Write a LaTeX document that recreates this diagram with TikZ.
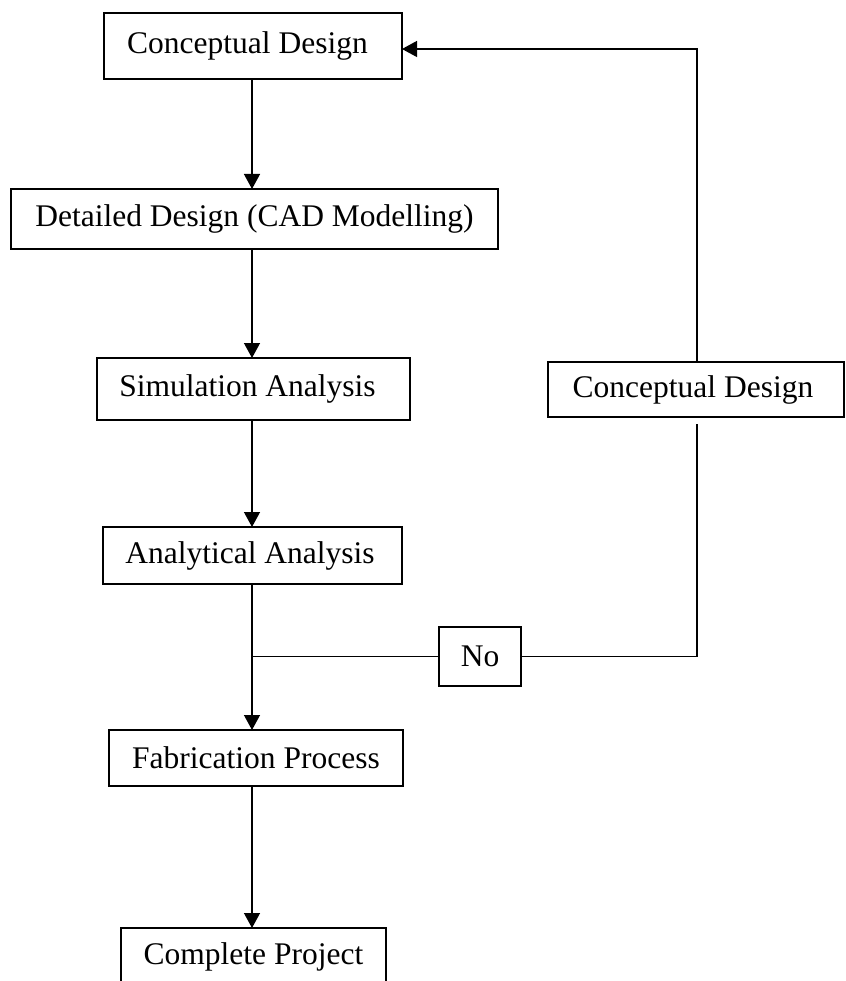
\documentclass[tikz,border=0pt]{standalone}
\usepackage{fontspec}
\setmainfont{Liberation Serif}
\usetikzlibrary{arrows.meta}
% shift a label sideways inside its box by half of #1
\newcommand{\labelshift}[1]{\hspace*{#1}}
\begin{document}
\begin{tikzpicture}[x=1pt,y=-1pt,
  stage/.style={draw, line width=1.8pt, inner sep=0pt, outer sep=0pt,
    anchor=north west, font=\fontsize{31.5}{36}\selectfont},
  link/.style={line width=1.3pt},
  flow/.style={link, -{Triangle[length=15pt,width=16pt]}}]
\useasboundingbox (0,0) rectangle (845,981);
\clip (0,0) rectangle (845,981);

% process boxes
\node[stage, minimum width=298pt, minimum height=66pt] (concept) at (104,13) {\labelshift{-11pt}Conceptual Design};
\node[stage, minimum width=487pt, minimum height=60pt] (detail) at (11,189) {Detailed Design (CAD Modelling)};
\node[stage, minimum width=313pt, minimum height=62pt] (sim) at (97,358) {\labelshift{-12pt}Simulation Analysis};
\node[stage, minimum width=299pt, minimum height=57pt] (anal) at (103,527) {\labelshift{-5pt}Analytical Analysis};
\node[stage, minimum width=294pt, minimum height=56pt] (fab) at (109,730) {Fabrication Process};
\node[stage, minimum width=265pt, minimum height=57pt] (done) at (121,928) {Complete Project};
\node[stage, minimum width=296pt, minimum height=55pt] (recon) at (548,362) {\labelshift{-6pt}Conceptual Design};
\node[stage, minimum width=82pt, minimum height=59pt] (no) at (439,627) {No};

% guide lines for the main column and the feedback loop
\coordinate (spine) at (252,0);
\coordinate (loop) at (697,0);
\coordinate (loopfoot) at (697,424);

% main flow
\draw[flow] (concept.south -| spine) -- (detail.north -| spine);
\draw[flow] (detail.south -| spine) -- (sim.north -| spine);
\draw[flow] (sim.south -| spine) -- (anal.north -| spine);
\draw[flow] (anal.south -| spine) -- (fab.north -| spine);
\draw[flow] (fab.south -| spine) -- (done.north -| spine);

% feedback branch
\draw[link] (no.west) -- (no.west -| spine);
\draw[link] (no.east) -| (loopfoot);
\draw[flow] (recon.north -| loop) |- ([yshift=-3pt]concept.east);
\end{tikzpicture}
\end{document}
